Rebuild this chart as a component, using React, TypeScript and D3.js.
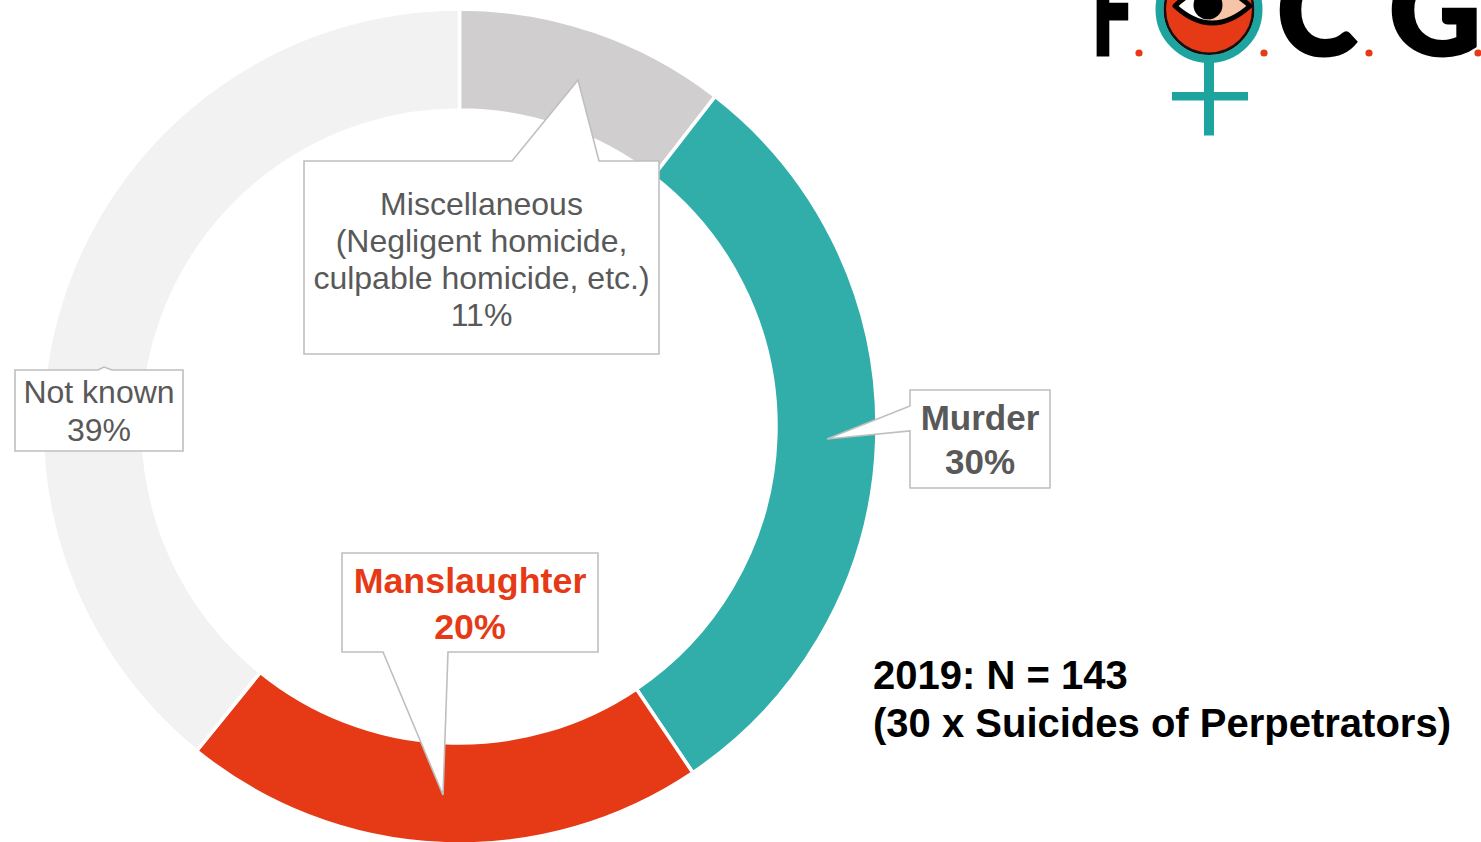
import React from "react";
import * as d3 from "d3";

// ---- data ----
const categories = ["Miscellaneous", "Murder", "Manslaughter", "Not known"];
const counts = [15, 43, 29, 56];
const sliceColors = ["#d0cece", "#31aeaa", "#e63a17", "#f2f2f2"];
const percentLabels = ["11%", "30%", "20%", "39%"];
const miscLines = ["Miscellaneous", "(Negligent homicide,", "culpable homicide, etc.)"];
const noteLines = ["2019: N = 143", "(30 x Suicides of Perpetrators)"];
const logoLetters = ["F", "C", "G"];

const W = 1481;
const H = 842;
const FONT = "'Liberation Sans', Arial, Helvetica, sans-serif";
const GRAY_TEXT = "#595959";
const BORDER = "#bfbfbf";
const RED = "#e63a17";
const TEAL = "#1ea49f";

export default function App() {
  const cx = 459.5;
  const cy = 426.5;
  const outerR = 417.5;
  const innerR = 316.5;

  const pie = d3
    .pie<number>()
    .sort(null)
    .startAngle(0)
    .endAngle(2 * Math.PI)
    .value((d) => d);
  const arcs = pie(counts);
  const arcGen = d3.arc<d3.PieArcDatum<number>>().innerRadius(innerR).outerRadius(outerR);

  // callout geometry
  const miscBox = { x0: 304, y0: 161, x1: 659, y1: 354 };
  const murderBox = { x0: 910, y0: 390, x1: 1050, y1: 488 };
  const manBox = { x0: 342, y0: 553, x1: 598, y1: 652 };
  const nkBox = { x0: 15, y0: 370, x1: 183, y1: 451 };

  const miscPath = `M${miscBox.x0},${miscBox.y0} H512 L578,80 L599,${miscBox.y0} H${miscBox.x1} V${miscBox.y1} H${miscBox.x0} Z`;
  const murderPath = `M${murderBox.x0},${murderBox.y0} H${murderBox.x1} V${murderBox.y1} H${murderBox.x0} V431 L827,439 L${murderBox.x0},406 Z`;
  const manPath = `M${manBox.x0},${manBox.y0} H${manBox.x1} V${manBox.y1} H448 L443,795 L383,${manBox.y1} H${manBox.x0} Z`;
  const nkPath = `M${nkBox.x0},${nkBox.y0} H98 L104,367 L112,${nkBox.y0} H${nkBox.x1} V${nkBox.y1} H${nkBox.x0} Z`;

  const miscCx = (miscBox.x0 + miscBox.x1) / 2;
  const murderCx = (murderBox.x0 + murderBox.x1) / 2;
  const manCx = (manBox.x0 + manBox.x1) / 2;
  const nkCx = (nkBox.x0 + nkBox.x1) / 2;

  // logo geometry
  const lx = 1209;
  const ly = 9.5;
  const letterX = [1092, 1277, 1389];
  const letterW = [41, 80, 92];
  const dotX = [1139, 1264, 1369, 1478];

  return (
    <svg
      width={W}
      height={H}
      viewBox={`0 0 ${W} ${H}`}
      style={{ position: "absolute", left: 0, top: 0, background: "#ffffff" }}
    >
      <rect x={0} y={0} width={W} height={H} fill="#ffffff" />
      {/* donut */}
      <g transform={`translate(${cx},${cy})`}>
        {arcs.map((a, i) => (
          <path
            key={categories[i]}
            d={arcGen(a) || ""}
            fill={sliceColors[i]}
            stroke="#ffffff"
            strokeWidth={3.5}
            strokeLinejoin="miter"
          />
        ))}
      </g>

      {/* callouts */}
      <g fill="#ffffff" stroke={BORDER} strokeWidth={1.6} strokeLinejoin="miter">
        <path d={miscPath} />
        <path d={murderPath} />
        <path d={manPath} />
        <path d={nkPath} />
      </g>

      {/* misc text */}
      <g fontFamily={FONT} fontSize={32} fill={GRAY_TEXT} textAnchor="middle">
        {miscLines.map((t, i) => (
          <text key={t} x={miscCx} y={215 + i * 37}>
            {t}
          </text>
        ))}
        <text x={miscCx} y={215 + 3 * 37}>
          {percentLabels[0]}
        </text>
        <text x={nkCx} y={403}>
          {categories[3]}
        </text>
        <text x={nkCx} y={441}>
          {percentLabels[3]}
        </text>
      </g>

      <g fontFamily={FONT} fontSize={35} fontWeight="bold" textAnchor="middle">
        <text x={murderCx} y={430} fill={GRAY_TEXT}>
          {categories[1]}
        </text>
        <text x={murderCx} y={474} fill={GRAY_TEXT}>
          {percentLabels[1]}
        </text>
        <text x={manCx} y={593} fill={RED} fontSize={35.8}>
          {categories[2]}
        </text>
        <text x={manCx} y={639} fill={RED} fontSize={35.8}>
          {percentLabels[2]}
        </text>
      </g>

      {/* note */}
      <g fontFamily={FONT} fontSize={40} fontWeight="bold" fill="#000000">
        {noteLines.map((t, i) => (
          <text key={t} x={873} y={689 + i * 48}>
            {t}
          </text>
        ))}
      </g>

      {/* logo */}
      <g>
        {logoLetters.map((l, i) => (
          <text
            key={l}
            x={letterX[i]}
            y={54.5}
            fontFamily="Lato, 'DejaVu Sans', sans-serif"
            fontWeight={900}
            fontSize={124}
            fill="#000000"
            stroke="#000000"
            strokeWidth={3}
            strokeLinejoin="miter"
            textLength={letterW[i]}
            lengthAdjust="spacingAndGlyphs"
          >
            {l}
          </text>
        ))}
        {dotX.map((x) => (
          <circle key={x} cx={x} cy={53} r={3.6} fill={RED} />
        ))}
        <rect x={lx - 5} y={ly + 50} width={10} height={76} fill={TEAL} />
        <rect x={1172} y={92} width={76} height={8.5} fill={TEAL} />
        <circle cx={lx} cy={ly} r={49.5} fill="none" stroke={TEAL} strokeWidth={8} />
        <circle cx={lx} cy={ly} r={44.2} fill={RED} stroke="#111111" strokeWidth={2.6} />
        <defs>
          <clipPath id="eyeRight">
            <rect x={lx} y={-40} width={60} height={80} />
          </clipPath>
        </defs>
        <path d={`M1175,6 Q1212,-30 1250,6 Q1212,40 1175,6 Z`} fill="#ffffff" />
        <path
          d={`M1175,6 Q1212,-30 1250,6 Q1212,40 1175,6 Z`}
          fill="#f6c4a7"
          clipPath="url(#eyeRight)"
        />
        <circle cx={1208} cy={5} r={14.5} fill="#000000" />
        <path
          d={`M1175,6 Q1212,-30 1250,6 Q1212,40 1175,6 Z`}
          fill="none"
          stroke="#000000"
          strokeWidth={5}
          strokeLinejoin="round"
        />
      </g>
    </svg>
  );
}
